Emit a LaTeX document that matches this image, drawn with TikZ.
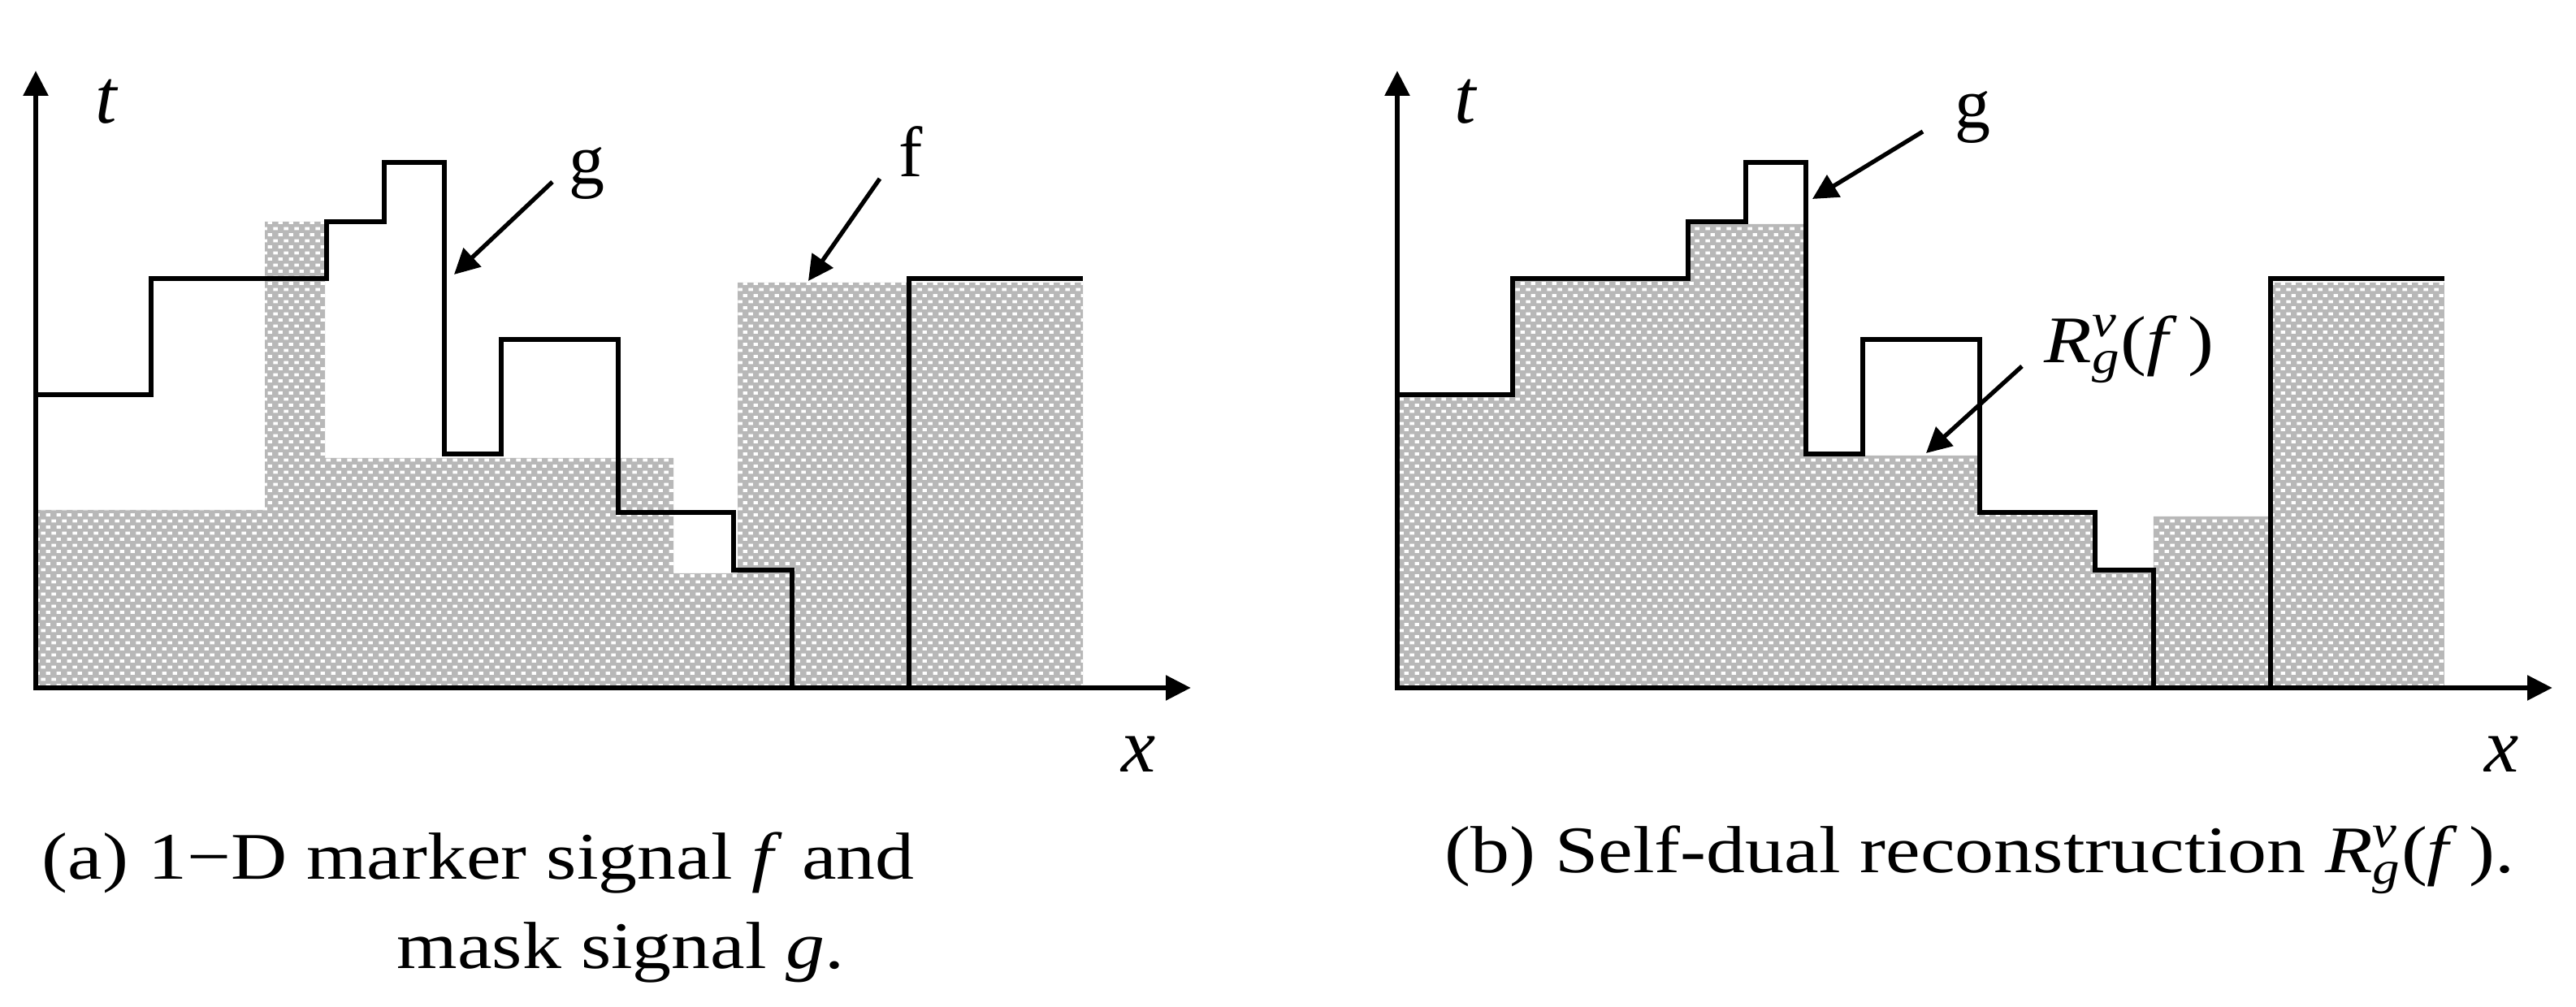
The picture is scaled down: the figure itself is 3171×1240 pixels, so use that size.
\documentclass[tikz,border=0pt]{standalone}
\usepackage{fontspec}
\setmainfont{Liberation Serif}
\newfontfamily\capfont[FakeStretch=1.17]{Liberation Serif}
\usetikzlibrary{arrows.meta,patterns}
\definecolor{shadegray}{RGB}{184,184,184}
\pgfdeclarepatternformonly{mywhitedotsfill}{\pgfpointorigin}{\pgfqpoint{3.6pt}{4.4pt}}{\pgfqpoint{3.6pt}{4.4pt}}{%
  \pgfpathrectangle{\pgfqpoint{0.1pt}{0.2pt}}{\pgfqpoint{1.6pt}{1.1pt}}%
  \pgfpathrectangle{\pgfqpoint{1.9pt}{2.4pt}}{\pgfqpoint{1.6pt}{1.1pt}}%
  \pgfusepath{fill}}
\newcommand{\Rvg}{\textit{R}\rlap{\textsuperscript{\textit{v}}}\textsubscript{\textit{g}}(\textit{f}\,)}
\begin{document}
\begin{tikzpicture}[x=0.01cm,y=-0.01cm,
  fshade/.style={preaction={fill=shadegray},pattern=mywhitedotsfill,pattern color=white},
  sig/.style={line width=1.7pt,line join=miter},
  axis/.style={line width=1.9pt,line join=miter,{Triangle[length=8.8pt,width=8.4pt]}-{Triangle[length=8.8pt,width=8.4pt]}},
  ptr/.style={line width=1.5pt,-{Triangle[length=8.8pt,width=8.8pt]}},
  lab/.style={inner sep=0pt,font=\fontsize{25}{30}\selectfont},
  ilab/.style={inner sep=0pt,font=\fontsize{27}{30}\selectfont\itshape},
  captext/.style={inner sep=0pt,anchor=base west,font=\capfont\fontsize{23.3}{28}\selectfont},
]
\useasboundingbox (0,0) rectangle (3171,1240);

% ---------- panel (a) ----------
\fill[fshade] (44,847) -- (44,628) -- (326,628) -- (326,273) -- (400,273) -- (400,564)
  -- (829,564) -- (829,706) -- (908,706) -- (908,348) -- (1333,348) -- (1333,847) -- cycle;
\draw[sig] (44,486) -- (186,486) -- (186,343) -- (402,343) -- (402,273) -- (473,273)
  -- (473,200) -- (547,200) -- (547,559) -- (617,559) -- (617,418) -- (761,418)
  -- (761,631) -- (903,631) -- (903,702) -- (975,702) -- (975,847) -- (1119,847)
  -- (1119,343) -- (1333,343);
\coordinate (ta) at (44,87);
\coordinate (oa) at (44,847);
\coordinate (xa) at (1466,847);
\draw[axis] (ta) -- (oa) -- (xa);
\node[ilab] (tlaba) at (131,125) {t};
\node[ilab] (xlaba) at (1402,929) {x};
\node[lab] (glaba) at (722,213) {g};
\node[lab] (flaba) at (1121,187) {f};
\coordinate (ga1) at (680,224);
\coordinate (ga2) at (559,338);
\coordinate (fa1) at (1083,220);
\coordinate (fa2) at (995,346);
\draw[ptr] (ga1) -- (ga2);
\draw[ptr] (fa1) -- (fa2);
\node[captext] (capa1) at (51,1083) {(a) 1\textminus D marker signal \textit{f} and};
\node[captext] (capa2) at (488,1193) {mask signal \textit{g}.};

% ---------- panel (b) ----------
\begin{scope}[xshift=16.75cm]
\fill[fshade] (44,847) -- (44,486) -- (186,486) -- (186,343) -- (402,343) -- (402,276)
  -- (547,276) -- (547,561) -- (761,561) -- (761,631) -- (903,631) -- (903,702)
  -- (975,702) -- (975,636) -- (1121,636) -- (1121,348) -- (1333,348) -- (1333,847) -- cycle;
\draw[sig] (44,486) -- (186,486) -- (186,343) -- (402,343) -- (402,273) -- (473,273)
  -- (473,200) -- (547,200) -- (547,559) -- (617,559) -- (617,418) -- (761,418)
  -- (761,631) -- (903,631) -- (903,702) -- (975,702) -- (975,847) -- (1119,847)
  -- (1119,343) -- (1333,343);
\coordinate (tb) at (44,87);
\coordinate (ob) at (44,847);
\coordinate (xb) at (1466,847);
\draw[axis] (tb) -- (ob) -- (xb);
\node[ilab] (tlabb) at (128,125) {t};
\node[ilab] (xlabb) at (1404,929) {x};
\node[lab] (glabb) at (752,144) {g};
\node[captext,anchor=center] (rlab) at (945,430) {\Rvg};
\coordinate (gb1) at (691,162);
\coordinate (gb2) at (555,245);
\coordinate (rb1) at (813,451);
\coordinate (rb2) at (695,558);
\draw[ptr] (gb1) -- (gb2);
\draw[ptr] (rb1) -- (rb2);
\end{scope}
\node[captext] (capb) at (1778,1075) {(b) Self-dual reconstruction \Rvg.};
\end{tikzpicture}
\end{document}
